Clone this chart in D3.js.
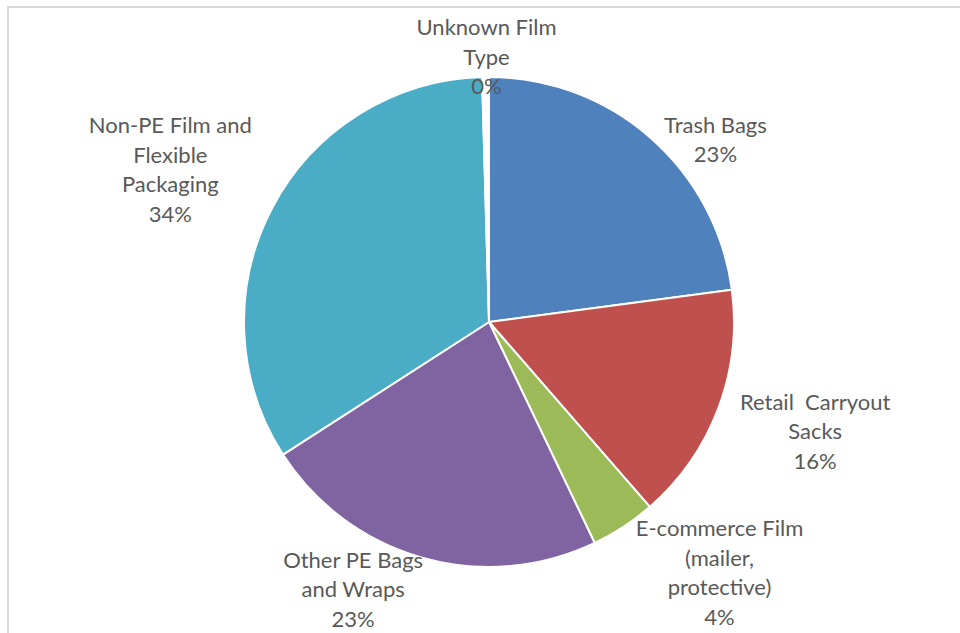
<!DOCTYPE html>
<html>
<head>
<meta charset="utf-8">
<script src="https://cdn.jsdelivr.net/npm/d3@7"></script>
<style>
  html, body { margin: 0; padding: 0; background: #fff; }
  svg { display: block; }
  .lbl { font-family: Lato, "Open Sans", sans-serif; fill: #595959; }
</style>
</head>
<body>
<div id="chart"></div>
<script>
// film categories, clockwise from 12 o'clock
var categories = ["Trash Bags", "Retail Carryout Sacks", "E-commerce Film (mailer, protective)",
                  "Other PE Bags and Wraps", "Non-PE Film and Flexible Packaging", "Unknown Film Type"];
var shares = [22.9, 15.7, 4.3, 23.0, 33.65, 0.45];
var labelLines = [
  ["Trash Bags"],
  ["Retail  Carryout", "Sacks"],
  ["E-commerce Film", "(mailer,", "protective)"],
  ["Other PE Bags", "and Wraps"],
  ["Non-PE Film and", "Flexible", "Packaging"],
  ["Unknown Film", "Type"]
];
var sliceColors = ["#4f81bd", "#c0504d", "#9bbb59", "#8064a2", "#4bacc6", "#ffffff"];

var width = 960, height = 633;
var cx = 489, cy = 322, radius = 245;
var fontSize = 22, lineH = 29.5;

// label block centre = point on the rim at mid-angle + nudge (best-fit style)
var labelNudge = [[65, 2], [97, 23], [96, 46], [-69, 32], [-102, -38], [1, -20]];

var svg = d3.select("#chart").append("svg")
  .attr("width", width)
  .attr("height", height);

// chart area frame
svg.append("rect")
  .attr("x", 8).attr("y", 7)
  .attr("width", 1000).attr("height", 700)
  .attr("fill", "none")
  .attr("stroke", "#d9d9d9")
  .attr("stroke-width", 2);

var pie = d3.pie().sort(null).value(function(d) { return d; });
var arcs = pie(shares);

var arc = d3.arc().innerRadius(0).outerRadius(radius);

var g = svg.append("g").attr("transform", "translate(" + cx + "," + cy + ")");

g.selectAll("path.slice")
  .data(arcs)
  .enter().append("path")
  .attr("class", "slice")
  .attr("d", arc)
  .attr("fill", function(d, i) { return sliceColors[i]; })
  .attr("stroke", "#fff")
  .attr("stroke-width", 2)
  .attr("stroke-linejoin", "round");

var total = d3.sum(shares);

var labels = g.selectAll("text.lbl")
  .data(arcs)
  .enter().append("text")
  .attr("class", "lbl")
  .attr("text-anchor", "middle")
  .style("font-size", fontSize + "px")
  .each(function(d, i) {
    var mid = (d.startAngle + d.endAngle) / 2;
    var px = radius * Math.sin(mid) + labelNudge[i][0];
    var py = -radius * Math.cos(mid) + labelNudge[i][1];
    var lines = labelLines[i].concat([Math.round(d.value / total * 100) + "%"]);
    var top = py - (lines.length - 1) * lineH / 2;
    var t = d3.select(this);
    lines.forEach(function(s, k) {
      t.append("tspan")
        .attr("x", px)
        .attr("y", top + k * lineH)
        .attr("dy", "0.35em")
        .attr("xml:space", "preserve")
        .text(s);
    });
  });
</script>
</body>
</html>
